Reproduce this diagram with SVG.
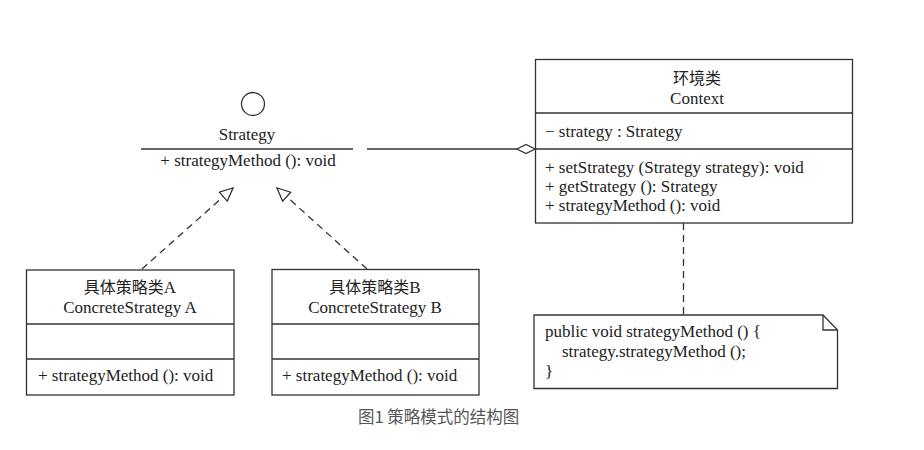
<svg xmlns="http://www.w3.org/2000/svg" width="924" height="450" viewBox="0 0 924 450">
<defs>
<style>
.box{fill:#fff;stroke:#333;stroke-width:1.3}
.ln{stroke:#333;stroke-width:1.3;fill:none}
.dash{stroke:#333;stroke-width:1.3;fill:none;stroke-dasharray:7 5}
.t{font-family:"Liberation Serif","Noto Sans CJK SC",serif;font-size:17px;fill:#222}
.cjk{font-size:16px}
.c{text-anchor:middle}
.cap{font-family:"Noto Sans CJK SC","Liberation Sans",sans-serif;font-size:16.5px;fill:#555}
</style>
<marker id="tri" markerWidth="16" markerHeight="16" refX="14" refY="7" orient="auto" markerUnits="userSpaceOnUse">
<path d="M1,1 L14,7 L1,13 Z" fill="#fff" stroke="#333" stroke-width="1.3"/>
</marker>
</defs>
<rect width="924" height="450" fill="#fff"/>
<g id="connectors">
<line class="dash" x1="142" y1="269" x2="233" y2="188" marker-end="url(#tri)"/>
<line class="dash" x1="367" y1="269" x2="277" y2="188" marker-end="url(#tri)"/>
<line class="ln" x1="367" y1="149" x2="517" y2="149"/>
<path class="ln" d="M517,149 L526,144.5 L535,149 L526,153.5 Z" fill="#fff"/>
<line class="dash" x1="683.5" y1="223" x2="683.5" y2="315"/>
</g>
<g id="strategy">
<circle cx="253" cy="104" r="11.5" class="ln"/>
<text class="t c" x="247" y="140">Strategy</text>
<line class="ln" x1="141" y1="149" x2="353" y2="149"/>
<text class="t c" x="248" y="166">+ strategyMethod (): void</text>
</g>
<g id="context">
<rect class="box" x="535.5" y="59.5" width="317" height="163.5"/>
<line class="ln" x1="535.5" y1="113" x2="852.5" y2="113"/>
<line class="ln" x1="535.5" y1="149" x2="852.5" y2="149"/>
<text class="t c cjk" x="697" y="84">环境类</text>
<text class="t c" x="697" y="104">Context</text>
<text class="t" x="545" y="137">− strategy : Strategy</text>
<text class="t" x="545" y="173">+ setStrategy (Strategy strategy): void</text>
<text class="t" x="545" y="192">+ getStrategy (): Strategy</text>
<text class="t" x="545" y="211">+ strategyMethod (): void</text>
</g>
<g id="concreteA">
<rect class="box" x="26.5" y="270" width="207.5" height="125"/>
<line class="ln" x1="26.5" y1="324" x2="234" y2="324"/>
<line class="ln" x1="26.5" y1="359" x2="234" y2="359"/>
<text class="t c" x="130" y="293"><tspan class="cjk">具体策略类</tspan>A</text>
<text class="t c" x="130" y="313">ConcreteStrategy  A</text>
<text class="t" x="38" y="381">+ strategyMethod (): void</text>
</g>
<g id="concreteB">
<rect class="box" x="272" y="269.5" width="207" height="125.5"/>
<line class="ln" x1="272" y1="324" x2="479" y2="324"/>
<line class="ln" x1="272" y1="359" x2="479" y2="359"/>
<text class="t c" x="375" y="293"><tspan class="cjk">具体策略类</tspan>B</text>
<text class="t c" x="375" y="313">ConcreteStrategy  B</text>
<text class="t" x="282" y="381">+ strategyMethod (): void</text>
</g>
<g id="note">
<path class="box" d="M534,315 L823,315 L837.5,330 L837.5,388.5 L534,388.5 Z"/>
<path class="ln" d="M823,315 L823,330 L837.5,330"/>
<text class="t" x="545" y="337">public void strategyMethod () {</text>
<text class="t" x="562" y="357">strategy.strategyMethod ();</text>
<text class="t" x="545" y="377">}</text>
</g>
<text class="cap" x="358" y="423">图1 策略模式的结构图</text>
</svg>
